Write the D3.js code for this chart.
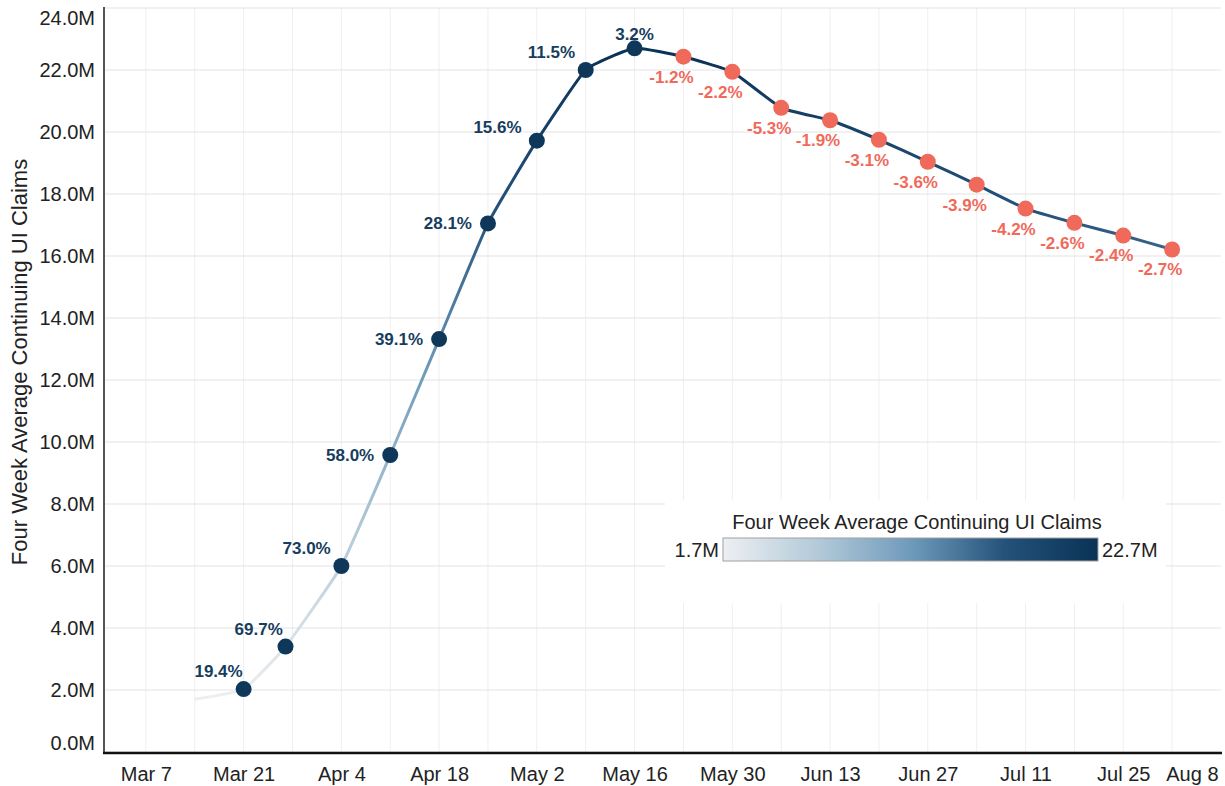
<!DOCTYPE html>
<html><head><meta charset="utf-8">
<script src="https://cdn.jsdelivr.net/npm/d3@7"></script>
<style>
body{margin:0;background:#fff}
svg{display:block;font-family:"Liberation Sans",Arial,sans-serif}
</style>
</head><body><svg id="c" width="1225" height="786"></svg>
<script>
// ---- data ----
const weeks = ["2020-03-14","2020-03-21","2020-03-27","2020-04-04","2020-04-11","2020-04-18","2020-04-25",
  "2020-05-02","2020-05-09","2020-05-16","2020-05-23","2020-05-30","2020-06-06","2020-06-13","2020-06-20",
  "2020-06-27","2020-07-04","2020-07-11","2020-07-18","2020-07-25","2020-08-01"];
const claimsM = [1.70,2.03,3.40,6.00,9.58,13.32,17.05,19.72,22.00,22.70,22.43,21.94,20.78,20.38,19.75,
  19.04,18.30,17.53,17.07,16.66,16.21];
const pctChange = [null,19.4,69.7,73.0,58.0,39.1,28.1,15.6,11.5,3.2,-1.2,-2.2,-5.3,-1.9,-3.1,-3.6,-3.9,-4.2,-2.6,-2.4,-2.7];
const xTickDates = ["2020-03-07","2020-03-21","2020-04-04","2020-04-18","2020-05-02","2020-05-16","2020-05-30",
  "2020-06-13","2020-06-27","2020-07-11","2020-07-25","2020-08-08"];
const yTicksM = [0,2,4,6,8,10,12,14,16,18,20,22,24];
const seriesTitle = "Four Week Average Continuing UI Claims";

// ---- layout ----
const L=104, R=1221, T=8, B=752;
const parse = d3.utcParse("%Y-%m-%d");
const data = weeks.map((w,i)=>({date:parse(w), v:claimsM[i], p:pctChange[i]}));
const x = d3.scaleUtc().domain([parse("2020-03-01"), parse("2020-08-08")]).range([L,R]);
const y = d3.scaleLinear().domain([0,24]).range([B,T]);
const svg = d3.select("#c");

const vMin = d3.min(claimsM), vMax = d3.max(claimsM);
const stops = ["#eceff2","#b4cad9","#6f9bbb","#24527a","#0a3256"];
const color = d3.scaleLinear().domain(d3.range(5).map(i=>vMin+i*(vMax-vMin)/4)).range(stops).interpolate(d3.interpolateRgb);
const NAVY="#0e375a", SALMON="#f06a5b", LABEL_NAVY="#173d5e";

// gradients
const defs = svg.append("defs");
const lg = defs.append("linearGradient").attr("id","lineGrad").attr("gradientUnits","userSpaceOnUse")
  .attr("x1",0).attr("x2",0).attr("y1",y(vMin)).attr("y2",y(vMax));
const cg = defs.append("linearGradient").attr("id","barGrad").attr("x1",0).attr("x2",1).attr("y1",0).attr("y2",0);
d3.range(0,1.0001,0.05).forEach(t=>{
  lg.append("stop").attr("offset",t).attr("stop-color",color(vMin+t*(vMax-vMin)));
  cg.append("stop").attr("offset",t).attr("stop-color",color(vMin+t*(vMax-vMin)));
});

// grid
const grid = svg.append("g");
grid.selectAll("line.v").data(d3.utcSaturday.range(parse("2020-03-07"), parse("2020-08-02"))).join("line")
  .attr("x1",d=>x(d)).attr("x2",d=>x(d)).attr("y1",T).attr("y2",B).attr("stroke","#efefef").attr("stroke-width",1);
grid.selectAll("line.h").data(yTicksM).join("line")
  .attr("x1",L).attr("x2",R).attr("y1",d=>y(d)).attr("y2",d=>y(d)).attr("stroke","#e4e4e4").attr("stroke-width",1.2);

// legend
const leg = svg.append("g");
leg.append("rect").attr("x",665).attr("y",500).attr("width",501).attr("height",103).attr("fill","#fff");
leg.append("text").attr("x",917).attr("y",529).attr("text-anchor","middle").attr("font-size",20).attr("fill","#222").text(seriesTitle);
leg.append("rect").attr("x",723).attr("y",538).attr("width",375).attr("height",23).attr("fill","url(#barGrad)").attr("stroke","#a0a0a0").attr("stroke-width",1);
leg.append("text").attr("x",719).attr("y",550).attr("dy","0.35em").attr("text-anchor","end").attr("font-size",20).attr("fill","#222").text(vMin.toFixed(1)+"M");
leg.append("text").attr("x",1102).attr("y",550).attr("dy","0.35em").attr("text-anchor","start").attr("font-size",20).attr("fill","#222").text(vMax.toFixed(1)+"M");

// axes
const xAxis = svg.append("g").attr("transform",`translate(0,${B+1})`)
  .call(d3.axisBottom(x).tickValues(xTickDates.map(parse)).tickSize(0).tickPadding(14).tickFormat(d3.utcFormat("%b %-d")));
xAxis.select(".domain").remove();
xAxis.selectAll("text").attr("font-size",20).attr("fill","#222").attr("font-family","Liberation Sans, Arial, sans-serif");
xAxis.selectAll(".tick").filter((d,i,n)=>i===n.length-1).select("text").attr("text-anchor","end").attr("x",-3);

const yAxis = svg.append("g").attr("transform",`translate(${L},0)`)
  .call(d3.axisLeft(y).tickValues(yTicksM).tickSize(0).tickPadding(9).tickFormat(d=>d.toFixed(1)+"M"));
yAxis.select(".domain").remove();
yAxis.selectAll("text").attr("font-size",20).attr("fill","#222").attr("font-family","Liberation Sans, Arial, sans-serif")
  .attr("y",d=>{const cy=Math.min(Math.max(y(d),T+10),B-9);return cy-y(d);});

svg.append("line").attr("x1",L).attr("x2",L).attr("y1",T-1).attr("y2",B+1).attr("stroke","#555").attr("stroke-width",2);
svg.append("line").attr("x1",L-1).attr("x2",R+1).attr("y1",B+1).attr("y2",B+1).attr("stroke","#111").attr("stroke-width",2.5);

svg.append("text").attr("transform",`translate(27,362) rotate(-90)`).attr("text-anchor","middle")
  .attr("font-size",22).attr("fill","#222").text(seriesTitle);

// line
const line = d3.line().x(d=>x(d.date)).y(d=>y(d.v)).curve(d3.curveCardinal.tension(0.6));
svg.append("path").datum(data).attr("d",line).attr("fill","none").attr("stroke","url(#lineGrad)").attr("stroke-width",3);

// markers
const pts = data.filter(d=>d.p!==null);
svg.append("g").selectAll("circle").data(pts).join("circle")
  .attr("cx",d=>x(d.date)).attr("cy",d=>y(d.v)).attr("r",8).attr("fill",d=>d.p>0?NAVY:SALMON);

// labels
const clamp=(v)=>Math.max(0,Math.min(1,v));
const lab = svg.append("g").attr("font-size",17).attr("font-weight","bold");
data.forEach((d,i)=>{
  if(d.p===null) return;
  const px=x(d.date), py=y(d.v);
  const txt=d.p.toFixed(1)+"%";
  const next=data[i+1];
  if(d.p>0 && next && next.p<0){
    lab.append("text").attr("x",px).attr("y",py-14).attr("dy","0.35em").attr("text-anchor","middle").attr("fill",LABEL_NAVY).text(txt);
  } else if(d.p>0){
    const prev=data[i-1];
    const s=(y(prev.v)-py)/(px-x(prev.date))*49;
    const dy=-18+18*clamp((s-75)/35);
    const dx=-1-15*clamp((s-45)/40);
    lab.append("text").attr("x",px+dx).attr("y",py+dy).attr("dy","0.35em").attr("text-anchor","end").attr("fill",LABEL_NAVY).text(txt);
  } else {
    lab.append("text").attr("x",px-12).attr("y",py+20).attr("dy","0.35em").attr("text-anchor","middle").attr("fill",SALMON).text(txt);
  }
});
</script>
</body></html>
